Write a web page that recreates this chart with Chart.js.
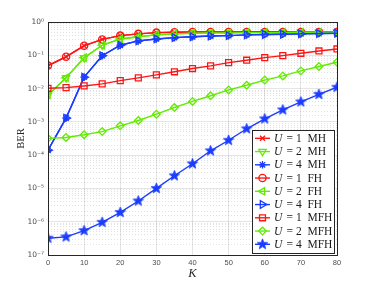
<!DOCTYPE html>
<html>
<head>
<meta charset="UTF-8">
<title>BER vs K</title>
<script src="https://cdn.jsdelivr.net/npm/chart.js"></script>
<style>
    html, body { margin: 0; padding: 0; background: #fff; }
    #wrap { width: 374px; height: 287px; }
</style>
</head>
<body>
<div id="wrap"><canvas id="graph" width="374" height="287"></canvas></div>
<script>
// K values (x axis)
const kValues = [0, 5, 10, 15, 20, 25, 30, 35, 40, 45, 50, 55, 60, 65, 70, 75, 80];

// BER
const berU1MH  = [0.048, 0.090, 0.193, 0.30, 0.39, 0.44, 0.48, 0.49, 0.50, 0.50, 0.50, 0.50, 0.50, 0.50, 0.50, 0.50, 0.50];
const berU2MH  = [0.0063, 0.021, 0.084, 0.20, 0.31, 0.36, 0.41, 0.44, 0.46, 0.47, 0.47, 0.48, 0.48, 0.48, 0.49, 0.49, 0.49];
const berU4MH  = [1.4e-4, 1.3e-3, 0.022, 0.097, 0.20, 0.27, 0.31, 0.34, 0.36, 0.38, 0.39, 0.41, 0.42, 0.43, 0.44, 0.45, 0.46];
const berU1FH  = [0.049, 0.091, 0.195, 0.30, 0.39, 0.44, 0.48, 0.49, 0.50, 0.50, 0.50, 0.50, 0.50, 0.50, 0.50, 0.50, 0.50];
const berU2FH  = [0.0064, 0.021, 0.085, 0.20, 0.31, 0.36, 0.41, 0.44, 0.46, 0.47, 0.47, 0.48, 0.48, 0.48, 0.49, 0.49, 0.49];
const berU4FH  = [1.4e-4, 1.3e-3, 0.022, 0.097, 0.20, 0.27, 0.31, 0.34, 0.36, 0.38, 0.39, 0.41, 0.42, 0.43, 0.44, 0.45, 0.46];
const berU1MFH = [0.0102, 0.0107, 0.012, 0.0138, 0.0173, 0.021, 0.0257, 0.032, 0.040, 0.048, 0.060, 0.071, 0.085, 0.098, 0.115, 0.135, 0.155];
const berU2MFH = [3.2e-4, 3.4e-4, 4.1e-4, 5.1e-4, 7.6e-4, 1.1e-3, 1.7e-3, 2.7e-3, 4.1e-3, 6.1e-3, 9.1e-3, 0.0126, 0.018, 0.024, 0.034, 0.046, 0.062];
const berU4MFH = [3.2e-7, 3.5e-7, 5.4e-7, 9.6e-7, 1.9e-6, 4.2e-6, 1.0e-5, 2.4e-5, 5.5e-5, 1.35e-4, 2.8e-4, 6.2e-4, 1.23e-3, 2.3e-3, 4.0e-3, 6.7e-3, 0.011];

const seriesLabels = ['U = 1 MH', 'U = 2 MH', 'U = 4 MH', 'U = 1 FH', 'U = 2 FH', 'U = 4 FH', 'U = 1 MFH', 'U = 2 MFH', 'U = 4 MFH'];
const xTicks = [0, 10, 20, 30, 40, 50, 60, 70, 80];

const RED = '#ff1414';
const GREEN = '#62ec00';
const BLUE = '#1a3cff';

// filled five point star for U = 4 MFH
function makeStar(color, r) {
    const c = document.createElement('canvas');
    const s = Math.ceil(r * 2 + 2);
    c.width = s; c.height = s;
    const g = c.getContext('2d');
    g.beginPath();
    for (let i = 0; i < 10; i++) {
        const rr = i % 2 === 0 ? r : r * 0.42;
        const a = -Math.PI / 2 + i * Math.PI / 5;
        const px = s / 2 + rr * Math.cos(a), py = s / 2 + rr * Math.sin(a);
        if (i === 0) g.moveTo(px, py); else g.lineTo(px, py);
    }
    g.closePath();
    g.fillStyle = color;
    g.fill();
    g.lineWidth = 0.8;
    g.strokeStyle = color;
    g.stroke();
    return c;
}
const starImg = makeStar(BLUE, 5.5);

function series(label, data, color, style, rotation, radius) {
    return {
        label: label,
        data: kValues.map((k, i) => ({x: k, y: data[i]})),
        borderColor: color,
        backgroundColor: 'rgba(0,0,0,0)',
        borderWidth: 1.4,
        pointStyle: style,
        pointRotation: rotation,
        pointRadius: radius,
        pointBorderColor: color,
        pointBackgroundColor: 'rgba(0,0,0,0)',
        pointBorderWidth: 1.3,
        tension: 0,
        fill: false
    };
}

const datasets = [
    series(seriesLabels[0], berU1MH, RED, 'crossRot', 0, 3.5),
    series(seriesLabels[1], berU2MH, GREEN, 'triangle', 180, 4.2),
    series(seriesLabels[2], berU4MH, BLUE, 'star', 0, 3.8),
    series(seriesLabels[3], berU1FH, RED, 'circle', 0, 3.6),
    series(seriesLabels[4], berU2FH, GREEN, 'triangle', -90, 4.2),
    series(seriesLabels[5], berU4FH, BLUE, 'triangle', 90, 4.4),
    series(seriesLabels[6], berU1MFH, RED, 'rect', 0, 4.2),
    series(seriesLabels[7], berU2MFH, GREEN, 'rectRot', 0, 3.8),
    series(seriesLabels[8], berU4MFH, BLUE, starImg, 0, 5)
];
// later series drawn on top, as in the original figure
datasets.forEach((d, i) => { d.order = datasets.length - i; });

const SUP = {'-': '\u207B', '0': '\u2070', '1': '\u00B9', '2': '\u00B2', '3': '\u00B3', '4': '\u2074', '5': '\u2075', '6': '\u2076', '7': '\u2077', '8': '\u2078', '9': '\u2079'};
function isDecade(v) {
    const e = Math.log10(v);
    return Math.abs(e - Math.round(e)) < 1e-6;
}

// box around the plot area
const boxPlugin = {
    id: 'box',
    afterDraw(chart) {
        const {ctx, chartArea: a} = chart;
        ctx.save();
        ctx.strokeStyle = '#262626';
        ctx.lineWidth = 1;
        ctx.strokeRect(Math.round(a.left) + 0.5, Math.round(a.top) + 0.5, Math.round(a.right - a.left), Math.round(a.bottom - a.top));
        ctx.restore();
    }
};

// legend drawn inside the axes, lower right
const legendPlugin = {
    id: 'boxLegend',
    afterDraw(chart) {
        const ctx = chart.ctx;
        const x0 = 252.5, y0 = 130.5, w = 82, h = 123;
        ctx.save();
        ctx.fillStyle = '#ffffff';
        ctx.fillRect(x0, y0, w, h);
        ctx.strokeStyle = '#262626';
        ctx.lineWidth = 1;
        ctx.strokeRect(x0, y0, w, h);
        chart.data.datasets.forEach((ds, i) => {
            const cy = 138.3 + i * 13.25;
            ctx.strokeStyle = ds.borderColor;
            ctx.lineWidth = 1.4;
            ctx.beginPath();
            ctx.moveTo(255, cy);
            ctx.lineTo(270, cy);
            ctx.stroke();
            ctx.fillStyle = 'rgba(0,0,0,0)';
            ctx.lineWidth = ds.pointBorderWidth;
            Chart.helpers.drawPoint(ctx, {
                pointStyle: ds.pointStyle,
                rotation: ds.pointRotation,
                radius: ds.pointRadius,
                borderWidth: ds.pointBorderWidth
            }, 262.5, cy);
            const parts = ds.label.split(' = ');
            ctx.fillStyle = '#1a1a1a';
            ctx.textBaseline = 'middle';
            ctx.font = 'italic 11.5px "Liberation Serif"';
            ctx.fillText(parts[0], 274, cy + 0.5);
            const uw = ctx.measureText(parts[0]).width;
            ctx.font = '11.5px "Liberation Serif"';
            ctx.fillText('\u2009= ' + parts[1].replace(' ', '\u2002'), 274 + uw + 2, cy + 0.5);
        });
        ctx.restore();
    }
};

const chart = new Chart(document.getElementById('graph'), {
    type: 'line',
    data: { datasets: datasets },
    options: {
        responsive: false,
        animation: false,
        events: [],
        layout: { padding: { left: 0, top: 22, right: 37, bottom: 0 } },
        plugins: { legend: { display: false }, tooltip: { enabled: false } },
        scales: {
            x: {
                type: 'linear',
                min: 0,
                max: 80,
                afterBuildTicks(scale) { scale.ticks = xTicks.map(v => ({value: v})); },
                afterFit(scale) { scale.height = 32; },
                ticks: {
                    color: '#4d4d4d',
                    font: { family: '"Liberation Sans"', size: 7.5 },
                    padding: 3,
                    maxRotation: 0
                },
                grid: { color: 'rgba(0,0,0,0.13)', lineWidth: 0.8, drawTicks: false },
                border: { display: false },
                title: {
                    display: true,
                    text: 'K',
                    color: '#262626',
                    font: { family: '"Liberation Serif"', style: 'italic', size: 12.5 },
                    padding: { top: 0, bottom: 6 }
                }
            },
            y: {
                type: 'logarithmic',
                min: 1e-7,
                max: 1,
                afterFit(scale) { scale.width = 48; },
                ticks: {
                    autoSkip: false,
                    color: '#4d4d4d',
                    font: { family: '"DejaVu Sans"', size: 7.5 },
                    padding: 4,
                    callback(v) {
                        if (!isDecade(v)) return '';
                        const e = String(Math.round(Math.log10(v)));
                        return '10' + e.split('').map(c => SUP[c]).join('');
                    }
                },
                grid: {
                    drawTicks: false,
                    lineWidth: 0.8,
                    color: ctx => ctx.tick && isDecade(ctx.tick.value) ? 'rgba(0,0,0,0.13)' : 'rgba(0,0,0,0.15)'
                },
                border: {
                    display: false,
                    dash: ctx => ctx.tick && isDecade(ctx.tick.value) ? [] : [1, 2]
                },
                title: {
                    display: true,
                    text: 'BER',
                    color: '#262626',
                    font: { family: '"Liberation Serif"', size: 10.5 },
                    padding: { top: 15, bottom: 0 }
                }
            }
        }
    },
    plugins: [boxPlugin, legendPlugin]
});
</script>
</body>
</html>
